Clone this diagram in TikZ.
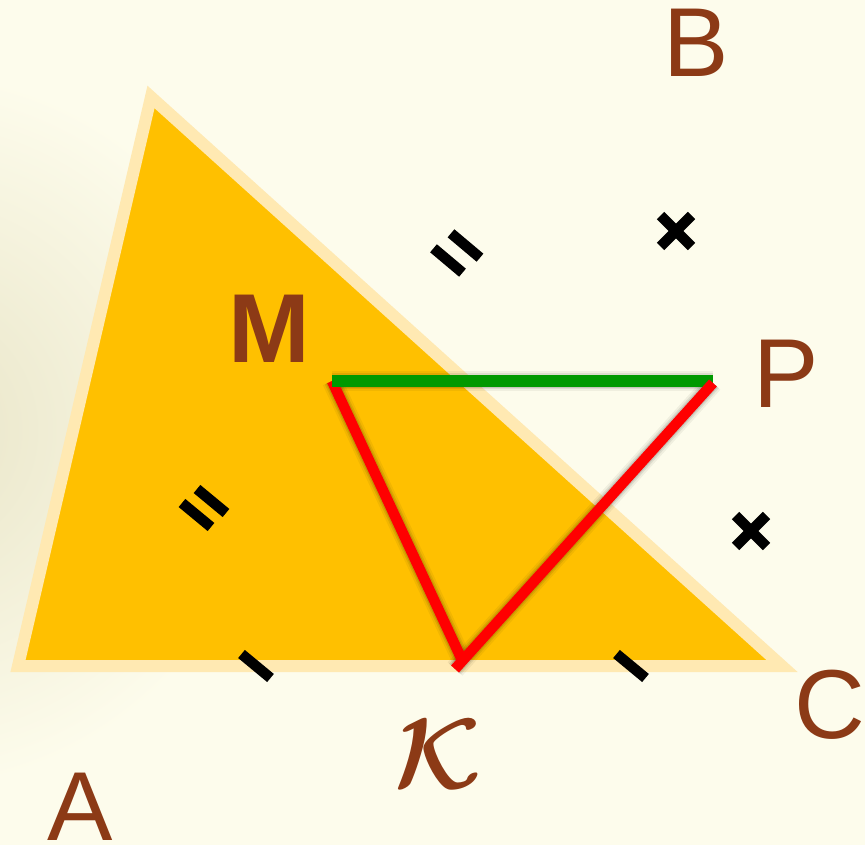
\documentclass[tikz,border=0pt]{standalone}
\usepackage{fontspec}
\setmainfont{Liberation Sans}
\definecolor{bgc}{RGB}{253,252,236}
\definecolor{bgl}{RGB}{232,228,198}
\definecolor{tri}{RGB}{255,192,0}
\definecolor{trib}{RGB}{255,233,178}
\definecolor{lbl}{RGB}{140,58,22}
\definecolor{grn}{RGB}{0,153,0}
\definecolor{rd}{RGB}{255,0,0}
\tikzset{
  lab/.style={text=lbl,inner sep=0pt,anchor=base,font=\fontsize{98}{110}\selectfont},
  tick/.style={black,line width=10.5pt,line cap=butt},
  seg/.style={line width=10.5pt,line cap=butt},
  shad/.style={black,line cap=butt}
}
\begin{document}
\begin{tikzpicture}[x=1pt,y=-1pt]
\useasboundingbox (0,0) rectangle (865,845);
% background
\fill[bgc] (0,0) rectangle (865,845);
\begin{scope}
\clip (0,0) rectangle (865,845);
\shade[inner color=bgl,outer color=bgc] (-90,430) circle (360);
\end{scope}
% triangle
\coordinate (tA) at (18,666);
\coordinate (tB) at (151,97);
\coordinate (tC) at (782,666);
\filldraw[fill=tri,draw=trib,line width=12pt,line join=miter,miter limit=10] (tA) -- (tB) -- (tC) -- cycle;
% points
\coordinate (M) at (332,381);
\coordinate (P) at (713,381);
\coordinate (K1) at (462,660);
\coordinate (K2) at (455,669);
\coordinate (P2) at (713,383);
% shadows
\foreach \w/\o in {20/0.05,16/0.08,13/0.1}{
  \draw[shad,line width=\w pt,opacity=\o,shift={(-2,-3)}] (M) -- (K1);
  \draw[shad,line width=\w pt,opacity=\o,shift={(-2,-3)}] (M) -- (P);
  \draw[shad,line width=\w pt,opacity=\o,shift={(-2,-3)}] (P2) -- (K2);
}
% lines
\draw[seg,rd] (M) -- (K1);
\draw[seg,grn,line width=11.5pt] (M) -- (P);
\draw[seg,rd] (P2) -- (K2);
% double ticks
\draw[tick] (433.5,248.3) -- (462.5,272.7);
\draw[tick] (451,233.3) -- (480,257.7);
\draw[tick] (182,503) -- (211,527);
\draw[tick] (197,489) -- (226,513);
% single ticks
\draw[tick] (241.5,654) -- (270.5,678);
\draw[tick] (616.5,654) -- (645.5,678);
% crosses
\draw[tick] (660.5,215.5) -- (691.5,246.5);
\draw[tick] (660.5,246.5) -- (691.5,215.5);
\draw[tick] (735.5,515.5) -- (766.5,546.5);
\draw[tick] (735.5,546.5) -- (766.5,515.5);
% labels
\node[lab] (lA) at (80.5,840) {A};
\node[lab] (lB) at (696.5,77) {B};
\node[lab] (lC) at (830,738) {C};
\node[lab] (lP) at (786,407) {P};
\node[lab,font=\fontsize{98}{110}\selectfont\bfseries] (lM) at (269,362) {M};
\node[lab,font=\fontsize{10}{12}\selectfont] (lK) at (438,788) {\scalebox{10}{\boldmath$\mathcal{K}$}};
\end{tikzpicture}
\end{document}
